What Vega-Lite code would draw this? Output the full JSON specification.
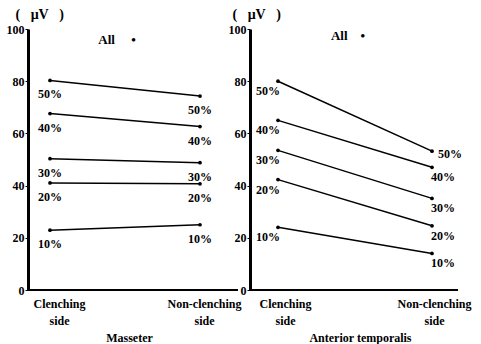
{
  "$schema": "https://vega.github.io/schema/vega-lite/v6.json",
  "background": "white",
  "padding": {"left": 6, "top": 7, "right": 5, "bottom": 5},
  "bounds": "flush",
  "spacing": 12,
  "config": {
    "view": {"stroke": null},
    "font": "Liberation Serif",
    "axis": {
      "labelFont": "Liberation Serif",
      "labelFontSize": 12,
      "labelFontWeight": "bold",
      "labelColor": "black",
      "titleFont": "Liberation Serif",
      "titleFontSize": 12,
      "titleFontWeight": "bold",
      "titleColor": "black",
      "grid": false
    },
    "title": {"font": "Liberation Serif", "fontSize": 13, "fontWeight": "bold", "color": "black"}
  },
  "data": {
    "values": [
      {"muscle": "Masseter", "side": "Clenching side", "level": "50%", "value": 80.3},
      {"muscle": "Masseter", "side": "Non-clenching side", "level": "50%", "value": 74.3},
      {"muscle": "Masseter", "side": "Clenching side", "level": "40%", "value": 67.6},
      {"muscle": "Masseter", "side": "Non-clenching side", "level": "40%", "value": 62.6},
      {"muscle": "Masseter", "side": "Clenching side", "level": "30%", "value": 50.3},
      {"muscle": "Masseter", "side": "Non-clenching side", "level": "30%", "value": 48.8},
      {"muscle": "Masseter", "side": "Clenching side", "level": "20%", "value": 41.0},
      {"muscle": "Masseter", "side": "Non-clenching side", "level": "20%", "value": 40.7},
      {"muscle": "Masseter", "side": "Clenching side", "level": "10%", "value": 22.9},
      {"muscle": "Masseter", "side": "Non-clenching side", "level": "10%", "value": 25.0},
      {"muscle": "Anterior temporalis", "side": "Clenching side", "level": "50%", "value": 80.0},
      {"muscle": "Anterior temporalis", "side": "Non-clenching side", "level": "50%", "value": 53.2},
      {"muscle": "Anterior temporalis", "side": "Clenching side", "level": "40%", "value": 65.0},
      {"muscle": "Anterior temporalis", "side": "Non-clenching side", "level": "40%", "value": 47.0},
      {"muscle": "Anterior temporalis", "side": "Clenching side", "level": "30%", "value": 53.5},
      {"muscle": "Anterior temporalis", "side": "Non-clenching side", "level": "30%", "value": 35.1},
      {"muscle": "Anterior temporalis", "side": "Clenching side", "level": "20%", "value": 42.3},
      {"muscle": "Anterior temporalis", "side": "Non-clenching side", "level": "20%", "value": 24.6},
      {"muscle": "Anterior temporalis", "side": "Clenching side", "level": "10%", "value": 24.0},
      {"muscle": "Anterior temporalis", "side": "Non-clenching side", "level": "10%", "value": 14.0}
    ]
  },
  "hconcat": [
    {
      "width": 210,
      "height": 261,
      "transform": [{"filter": "datum.muscle == 'Masseter'"}],
      "title": {"text": "All\u00a0\u00a0\u00a0\u00a0\u00a0•", "anchor": "middle", "offset": -14, "dx": -16, "dy": 26},
      "encoding": {
        "x": {
          "field": "side", "type": "ordinal",
          "sort": ["Clenching side", "Non-clenching side"],
          "scale": {"type": "point", "range": [22, 172], "padding": 0},
          "axis": {"domain": false, "ticks": false, "labelAngle": 0, "labelExpr": "split(datum.label, ' ')", "labelOffset": {"condition": {"test": "datum.value == 'Clenching side'", "value": 9}, "value": 4}, "labelPadding": 8, "labelLineHeight": 17, "title": "Masseter", "titleX": 101, "titlePadding": 6}
        },
        "y": {
          "field": "value", "type": "quantitative",
          "scale": {"domain": [0, 100]},
          "axis": {"values": [0, 20, 40, 60, 80, 100], "title": "(\u00a0\u00a0\u00a0μV\u00a0\u00a0\u00a0)", "titleFontSize": 14, "titleAngle": 0, "titleAlign": "left", "titleBaseline": "alphabetic", "titleX": -13, "titleY": -11, "domainWidth": 3, "domainColor": "black", "tickColor": "black", "tickSize": 3, "labelPadding": 1}
        }
      },
      "layer": [
        {"mark": {"type": "line", "color": "black", "strokeWidth": 1.5}, "encoding": {"detail": {"field": "level"}}},
        {"mark": {"type": "point", "filled": true, "color": "black", "size": 14, "opacity": 1}},
        {"mark": {"type": "text", "dy": 14, "fontSize": 12, "fontWeight": "bold", "color": "black"}, "encoding": {"text": {"field": "level"}}},
        {"mark": {"type": "rule", "color": "black", "strokeWidth": 2}, "encoding": {"x": null, "y": {"datum": 0}}}
      ]
    },
    {
      "width": 208,
      "height": 261,
      "transform": [{"filter": "datum.muscle == 'Anterior temporalis'"}],
      "title": {"text": "All\u00a0\u00a0\u00a0\u00a0•", "anchor": "middle", "offset": -11, "dx": -6, "dy": 25},
      "encoding": {
        "x": {
          "field": "side", "type": "ordinal",
          "sort": ["Clenching side", "Non-clenching side"],
          "scale": {"type": "point", "range": [28, 182], "padding": 0},
          "axis": {"domain": false, "ticks": false, "labelAngle": 0, "labelExpr": "split(datum.label, ' ')", "labelOffset": {"condition": {"test": "datum.value == 'Clenching side'", "value": 7}, "value": 2}, "labelPadding": 8, "labelLineHeight": 17, "title": "Anterior temporalis", "titleX": 110, "titlePadding": 6}
        },
        "y": {
          "field": "value", "type": "quantitative",
          "scale": {"domain": [0, 100]},
          "axis": {"values": [0, 20, 40, 60, 80, 100], "title": "(\u00a0\u00a0\u00a0μV\u00a0\u00a0\u00a0)", "titleFontSize": 14, "titleAngle": 0, "titleAlign": "left", "titleBaseline": "alphabetic", "titleX": -18, "titleY": -11, "domainWidth": 3, "domainColor": "black", "tickColor": "black", "tickSize": 3, "labelPadding": 1}
        }
      },
      "layer": [
        {"mark": {"type": "line", "color": "black", "strokeWidth": 1.5}, "encoding": {"detail": {"field": "level"}}},
        {"mark": {"type": "point", "filled": true, "color": "black", "size": 14, "opacity": 1}},
        {"transform": [{"filter": "datum.side == 'Clenching side'"}], "mark": {"type": "text", "dx": -10, "dy": 10, "fontSize": 12, "fontWeight": "bold", "color": "black"}, "encoding": {"text": {"field": "level"}}},
        {"transform": [{"filter": "datum.side == 'Non-clenching side' && datum.level != '50%'"}], "mark": {"type": "text", "dx": 11, "dy": 10, "fontSize": 12, "fontWeight": "bold", "color": "black"}, "encoding": {"text": {"field": "level"}}},
        {"transform": [{"filter": "datum.side == 'Non-clenching side' && datum.level == '50%'"}], "mark": {"type": "text", "dx": 18, "dy": 3, "fontSize": 12, "fontWeight": "bold", "color": "black"}, "encoding": {"text": {"field": "level"}}},
        {"mark": {"type": "rule", "color": "black", "strokeWidth": 2}, "encoding": {"x": null, "y": {"datum": 0}}}
      ]
    }
  ]
}
